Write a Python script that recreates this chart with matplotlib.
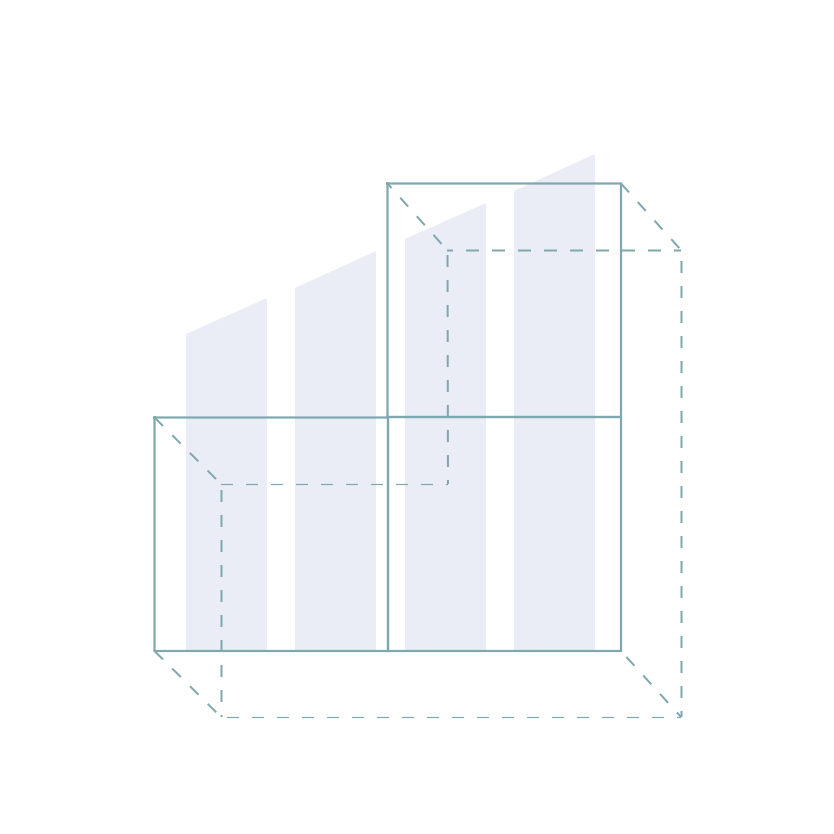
import matplotlib
matplotlib.use('Agg')
import matplotlib.pyplot as plt

plt.rcParams['lines.scale_dashes'] = False

bar_left = [186, 295, 405, 514]
bar_right = [267, 376, 486, 595]
bar_top_left = [334, 288, 239, 191]
bar_top_right = [298, 251, 203, 154]
bar_base = 651

# solid boxes: x0, x1, y0, y1
box_x0 = [154.5, 387.5, 388]
box_x1 = [388, 621, 621]
box_y0 = [417.5, 183.5, 417]
box_y1 = [651, 417, 651]

# dashed edges: start x, start y, end x, end y
edge_x0 = [154.5, 387.5, 621, 621, 154.5, 221, 447.5, 447, 681.5, 681, 221.5]
edge_y0 = [417.5, 183.5, 183.5, 651, 651, 484.5, 250, 250.5, 250, 717.5, 717]
edge_x1 = [221, 447, 681, 681, 221, 448, 448, 681, 681.5, 221, 221.5]
edge_y1 = [484, 250, 250, 717, 717, 484.5, 484, 250.5, 717, 717.5, 484]
# phase along each edge, and on/off length in pixels
edge_phase = [0, 6, 0, 17, 0, 0, 20, 7, 14, 8, 10]
edge_on = [12, 12, 12, 12, 12, 12, 12, 13, 12, 12, 12]
edge_off = [13, 13, 13, 13, 13, 13, 13, 13, 13, 13, 13]
edge_lw = [2, 2, 2, 2, 2, 1.2, 2, 2, 2, 1.2, 2]

line_color = '#7fa8ae'
bar_color = '#eaedf5'
px = 72 / 100  # points per pixel at dpi 100

fig = plt.figure(figsize=(8.34, 8.34), dpi=100)
ax = fig.add_axes([0, 0, 1, 1])
ax.set_xlim(0, 834)
ax.set_ylim(834, 0)
ax.axis('off')

for l, r, tl, tr in zip(bar_left, bar_right, bar_top_left, bar_top_right):
    ax.fill([l, r, r, l], [tl, tr, bar_base, bar_base], color=bar_color, lw=0, zorder=1)

for x0, x1, y0, y1 in zip(box_x0, box_x1, box_y0, box_y1):
    ax.plot([x0, x1, x1, x0, x0], [y0, y0, y1, y1, y0], color=line_color,
            lw=2.2 * px, solid_joinstyle='miter', zorder=3, snap=False)

for i in range(len(edge_x0)):
    ax.plot([edge_x0[i], edge_x1[i]], [edge_y0[i], edge_y1[i]], color=line_color,
            lw=edge_lw[i] * px, dash_capstyle='butt', zorder=2, snap=False,
            linestyle=(edge_phase[i] * px, (edge_on[i] * px, edge_off[i] * px)))

fig.savefig('out.png', dpi=100, facecolor='white')
